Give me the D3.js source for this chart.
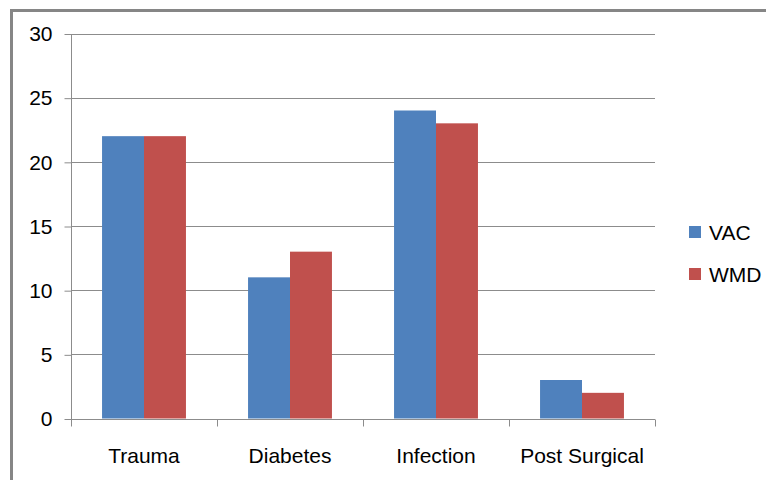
<!DOCTYPE html>
<html><head><meta charset="utf-8">
<script src="https://cdn.jsdelivr.net/npm/d3@7"></script>
<style>html,body{margin:0;background:#fff;overflow:hidden}svg{display:block;font-family:"Liberation Sans",Arial,sans-serif}</style>
</head><body><svg id="c" width="766" height="480"></svg>
<script>
const categories = ["Trauma","Diabetes","Infection","Post Surgical"];
const seriesNames = ["VAC","WMD"];
const vac = [22,11,24,3];
const wmd = [22,13,23,2];
const yTicks = [0,5,10,15,20,25,30];
const colors = ["#4F81BD","#C0504D"];

const svg = d3.select("#c");
const m = {left:71, right:655, top:33.5, bottom:418.5};
// outer frame (only top and left edges visible)
svg.append("path").attr("d","M11.5,480V10.5H766").attr("fill","none")
  .attr("stroke","#868686").attr("stroke-width",3);

const x = d3.scaleBand().domain(categories).range([m.left,m.right]).padding(0);
const xs = d3.scaleBand().domain(seriesNames).range([0,x.bandwidth()]).paddingInner(0).paddingOuter(0.74);
const y = d3.scaleLinear().domain([0,30]).range([m.bottom,m.top]);

svg.append("g").selectAll("line").data(yTicks.filter(d=>d>0)).join("line")
  .attr("x1",m.left).attr("x2",m.right).attr("y1",d=>Math.round(y(d))+0.5).attr("y2",d=>Math.round(y(d))+0.5)
  .attr("stroke","#8c8c8c").attr("stroke-width",1);

const data = categories.map((c,i)=>({c, vals:[vac[i],wmd[i]]}));
const g = svg.append("g").selectAll("g").data(data).join("g").attr("transform",d=>`translate(${x(d.c)},0)`);
g.selectAll("rect").data(d=>d.vals.map((v,j)=>({k:seriesNames[j],v,j}))).join("rect")
  .attr("x",d=>xs(d.k)).attr("width",xs.bandwidth())
  .attr("y",d=>y(d.v)).attr("height",d=>y(0)-y(d.v)).attr("fill",d=>colors[d.j]);

const ya = d3.axisLeft(y).tickValues(yTicks).tickSize(7).tickPadding(12);
const yg = svg.append("g").attr("transform",`translate(${m.left+0.5},0.5)`).call(ya);
yg.select(".domain").attr("stroke","#8c8c8c").attr("d",`M0,${m.top}V${m.bottom}`);
yg.selectAll(".tick line").attr("stroke","#8c8c8c");
yg.selectAll(".tick text").attr("font-size",21).attr("fill","#000").attr("font-family","Liberation Sans, Arial, sans-serif");

const xa = d3.axisBottom(x).tickSize(0).tickPadding(29);
const xg = svg.append("g").attr("transform",`translate(0,${Math.round(m.bottom)+0.5})`).call(xa);
xg.select(".domain").attr("stroke","#8c8c8c").attr("d",`M${m.left},0H${m.right}`);
xg.selectAll(".tick text").attr("font-size",21).attr("fill","#000").attr("font-family","Liberation Sans, Arial, sans-serif");
const bounds = categories.map(c=>x(c)).concat([m.right]);
xg.append("g").selectAll("line").data(bounds).join("line")
  .attr("x1",d=>Math.round(d)+0.5).attr("x2",d=>Math.round(d)+0.5).attr("y1",0).attr("y2",7).attr("stroke","#8c8c8c");

const lg = svg.append("g").selectAll("g").data(seriesNames).join("g")
  .attr("transform",(d,i)=>`translate(689,${226+i*42})`);
lg.append("rect").attr("width",12).attr("height",12).attr("fill",(d,i)=>colors[i]);
lg.append("text").attr("x",20).attr("y",14).attr("font-size",21).attr("fill","#000").text(d=>d);
</script></body></html>
